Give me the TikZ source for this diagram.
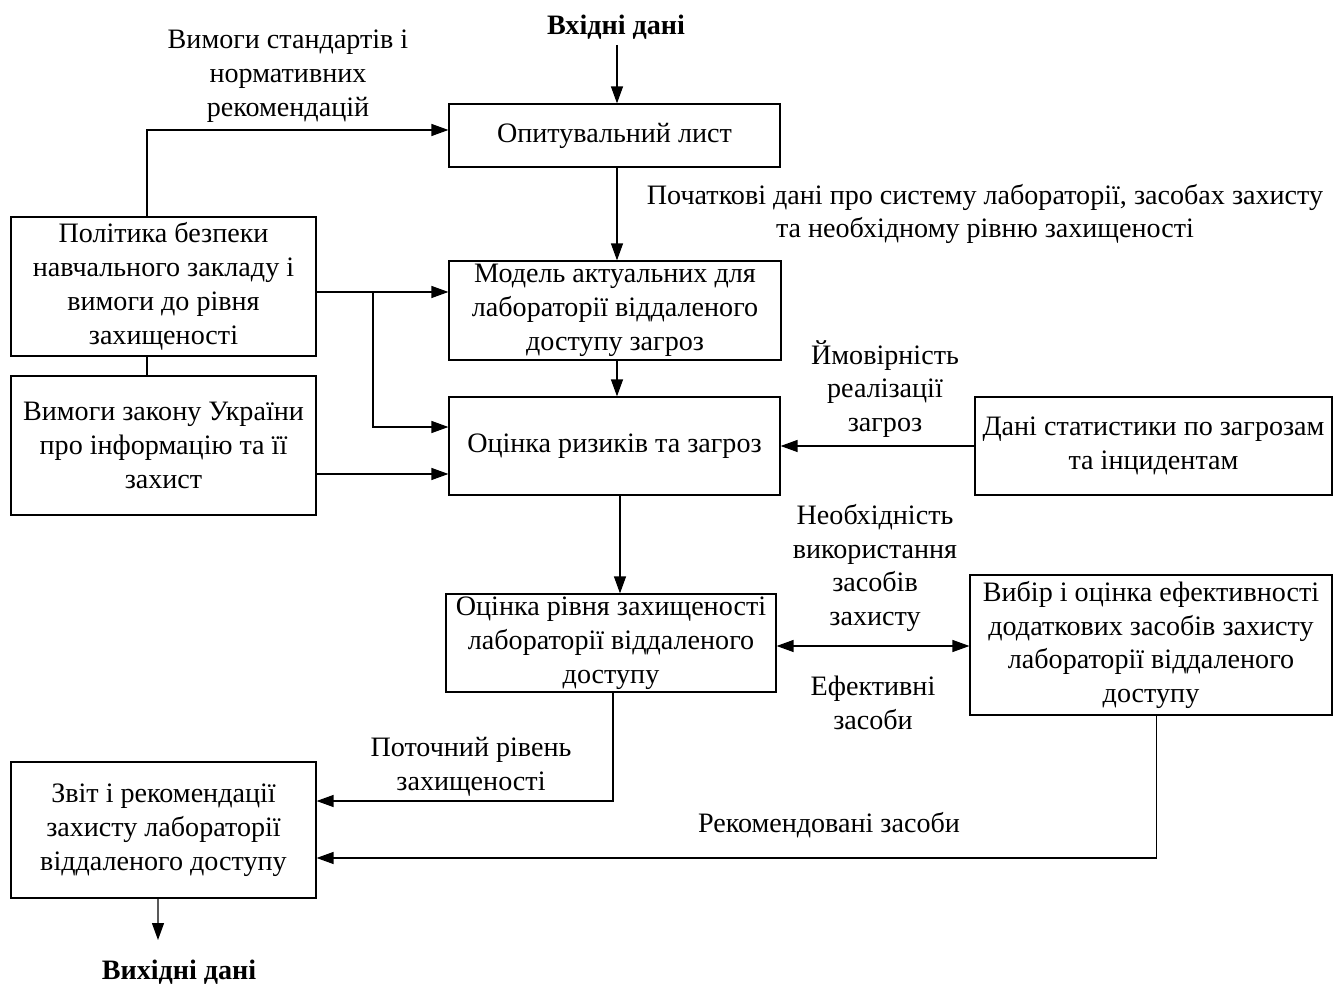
\documentclass[tikz,border=0pt]{standalone}
\usepackage{fontspec}
\setmainfont{Liberation Serif}
\usetikzlibrary{arrows.meta,positioning,calc}

\begin{document}
\begin{tikzpicture}[
        x=0.02cm, y=-0.02cm,
        block/.style={
            draw=black,
            line width=0.7pt,
            align=center,
            inner sep=0pt,
            font=\fontsize{16}{19.3}\selectfont
        },
        pointer/.style={
            -{Triangle[length=0.34cm, width=0.24cm]},
            line width=0.7pt
        },
        link/.style={
            line width=0.7pt
        },
        labelText/.style={
            align=center,
            inner sep=0pt,
            font=\fontsize{16}{19.3}\selectfont
        },
        ioText/.style={
            inner sep=1pt,
            font=\fontsize{16}{19.3}\selectfont\bfseries
        }
    ]

        \useasboundingbox (0,0) rectangle (1333,986);

        % Main blocks
        \node[block, minimum width=6.62cm, minimum height=1.26cm] (opyt) at (614.5,135.5)
            {Опитувальний лист};
        \node[block, minimum width=6.10cm, minimum height=2.78cm] (polityka) at (163.5,286.5)
            {Політика безпеки\\навчального закладу і\\вимоги до рівня\\захищеності};
        \node[block, minimum width=6.64cm, minimum height=1.98cm] (model) at (615,310.5)
            {Модель актуальних для\\лабораторії віддаленого\\доступу загроз};
        \node[block, minimum width=6.10cm, minimum height=2.78cm] (zakon) at (163.5,445.5)
            {Вимоги закону України\\про інформацію та її\\захист};
        \node[block, minimum width=6.62cm, minimum height=1.96cm] (ryzyky) at (614.5,446)
            {Оцінка ризиків та загроз};
        \node[block, minimum width=7.14cm, minimum height=1.96cm] (statystyka) at (1153.5,446)
            {Дані статистики по загрозам\\та інцидентам};
        \node[block, minimum width=6.60cm, minimum height=1.96cm] (riven) at (611,643)
            {Оцінка рівня захищеності\\лабораторії віддаленого\\доступу};
        \node[block, minimum width=7.24cm, minimum height=2.80cm] (vybir) at (1151,645)
            {Вибір і оцінка ефективності\\додаткових засобів захисту\\лабораторії віддаленого\\доступу};
        \node[block, minimum width=6.10cm, minimum height=2.72cm] (zvit) at (163.5,830)
            {Звіт і рекомендації\\захисту лабораторії\\віддаленого доступу};

        % Input and output
        \node[ioText] (vkhid) at (616,27) {Вхідні дані};
        \node[ioText] (vykhid) at (179,972) {Вихідні дані};
        \coordinate (vykhidEnd) at (158,940);

        % Connector labels
        \node[labelText] (lblStandart) at (288,76)
            {Вимоги стандартів і\\нормативних\\рекомендацій};
        \node[labelText] (lblPochatkovi) at (985,214)
            {Початкові дані про систему лабораторії, засобах захисту\\та необхідному рівню захищеності};
        \node[labelText] (lblImovirnist) at (885,389)
            {Ймовірність\\реалізації\\загроз};
        \node[labelText] (lblNeobkhidnist) at (875,568)
            {Необхідність\\використання\\засобів\\захисту};
        \node[labelText] (lblEfektyvni) at (873,703)
            {Ефективні\\засоби};
        \node[labelText] (lblPotochnyi) at (471,767)
            {Поточний рівень\\захищеності};
        \node[labelText] (lblRekomend) at (829,825)
            {Рекомендовані засоби};

        % Main flow
        \draw[pointer] (617,45) -- (617,45 |- opyt.north);
        \draw[pointer] ([xshift=0.05cm]opyt.south) -- ([xshift=0.05cm]opyt.south |- model.north);
        \draw[pointer] ([xshift=0.04cm]model.south) -- ([xshift=0.04cm]model.south |- ryzyky.north);
        \draw[pointer] ([xshift=0.11cm]ryzyky.south) -- ([xshift=0.11cm]ryzyky.south |- riven.north);

        % Requirements
        \draw[pointer] ([xshift=-0.33cm]polityka.north) |- ([yshift=0.11cm]opyt.west);
        \draw[link] ([xshift=-0.33cm]polityka.south) -- ([xshift=-0.33cm]zakon.north);
        \draw[pointer] ([yshift=-0.11cm]polityka.east) -- ([yshift=-0.11cm]polityka.east -| model.west);
        \draw[pointer] ([yshift=-0.11cm]polityka.east -| 373,0) |- ([yshift=0.38cm]ryzyky.west);
        \draw[pointer] ([yshift=-0.57cm]zakon.east) -- ([yshift=-0.57cm]zakon.east -| ryzyky.west);

        % Statistics and countermeasures
        \draw[pointer] (statystyka.west) -- (ryzyky.east);
        \draw[{Triangle[length=0.34cm, width=0.24cm]}-{Triangle[length=0.34cm, width=0.24cm]}, line width=0.7pt]
            ([yshift=-0.06cm]riven.east) -- ([yshift=-0.06cm]riven.east -| vybir.west);

        % Report
        \draw[pointer] ([xshift=0.04cm]riven.south) |- ([yshift=0.58cm]zvit.east);
        \draw[pointer] ([xshift=0.11cm]vybir.south) |- ([yshift=-0.56cm]zvit.east);
        \draw[pointer] ([xshift=-0.11cm]zvit.south) -- (vykhidEnd);

    \end{tikzpicture}
\end{document}
